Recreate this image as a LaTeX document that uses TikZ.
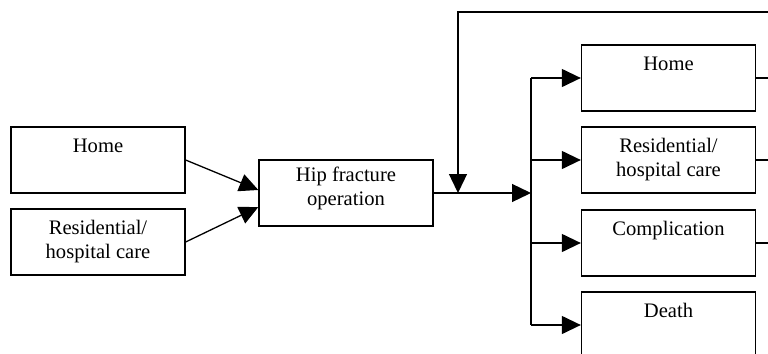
\documentclass[tikz,border=0pt]{standalone}
\usepackage{fontspec}
\setmainfont{Liberation Serif}
\usetikzlibrary{arrows.meta, positioning, calc}
\newcommand{\boxtext}[2][12.6pt]{\parbox[c][33pt][t]{87pt}{\centering\rule{0pt}{#1}#2}}

\begin{document}
\begin{tikzpicture}[
  x=0.5pt, y=-0.5pt,
  state/.style={rectangle, draw, line width=0.65pt, inner sep=0pt,
    font=\fontsize{10.3}{12.3}\selectfont},
  arr/.style={-{Triangle[length=9.5pt, width=9pt]}, line width=0.65pt},
  link/.style={line width=0.65pt},
]
\clip (0,0) rectangle (768,354);

% before the operation
\node[state] (lhome) at (98,160) {\boxtext{Home}};
\node[state] (lres) at (98,242) {\boxtext{Residential/\\hospital care}};
\node[state] (hip) at (346,193) {\boxtext[10.6pt]{Hip fracture\\operation}};

% after the operation
\node[state] (rhome) at (668.5,78) {\boxtext{Home}};
\node[state] (rres) at (668.5,160) {\boxtext{Residential/\\hospital care}};
\node[state] (comp) at (668.5,243) {\boxtext{Complication}};
\node[state] (death) at (668.5,325) {\boxtext{Death}};

\coordinate (join) at (458,193);
\coordinate (branch) at (531,193);
\coordinate (rimtop) at (768,12);
\coordinate (rim1) at (768,78);
\coordinate (rim2) at (768,160);
\coordinate (rim3) at (768,243);

\draw[arr] (lhome.east) -- ($(hip.west)+(0,-3)$);
\draw[arr] (lres.east) -- ($(hip.west)+(0,14)$);
\draw[arr] (hip.east) -- (branch);
\draw[arr] (rimtop) -| (join);

\draw[link] (branch |- rhome) -- (branch |- death);
\draw[arr] (branch |- rhome) -- (rhome.west);
\draw[arr] (branch |- rres) -- (rres.west);
\draw[arr] (branch |- comp) -- (comp.west);
\draw[arr] (branch |- death) -- (death.west);

\draw[link] (rhome.east) -- (rim1);
\draw[link] (rres.east) -- (rim2);
\draw[link] (comp.east) -- (rim3);

\end{tikzpicture}
\end{document}
